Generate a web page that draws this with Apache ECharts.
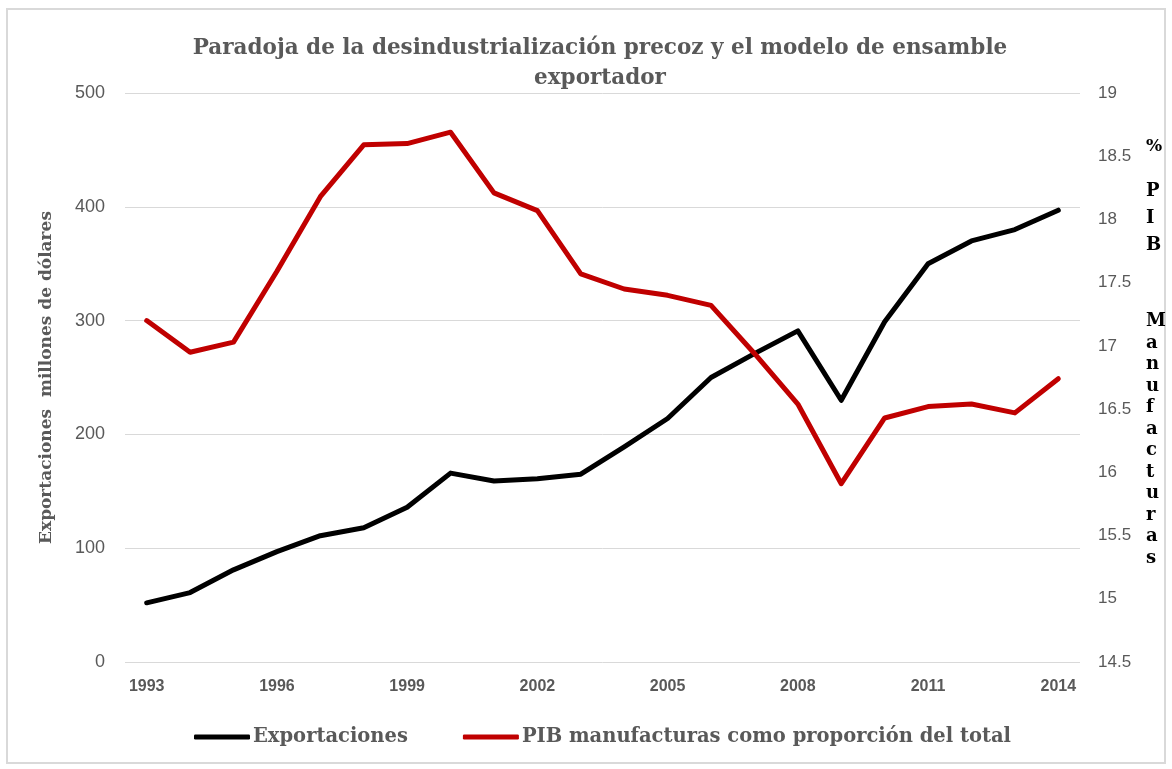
<!DOCTYPE html>
<html>
<head>
<meta charset="utf-8">
<script src="https://cdn.jsdelivr.net/npm/echarts@6/dist/echarts.min.js"></script>
<style>
  html, body { margin: 0; padding: 0; background: #fff; }
  #chart { width: 1172px; height: 769px; }
</style>
</head>
<body>
<div id="chart"></div>
<script>
// años
var years = ['1993', '1994', '1995', '1996', '1997', '1998', '1999', '2000', '2001', '2002', '2003',
             '2004', '2005', '2006', '2007', '2008', '2009', '2010', '2011', '2012', '2013', '2014'];
// exportaciones, millones de dólares (eje izquierdo)
var exportaciones = [52, 61, 81, 97, 111, 118, 136, 166, 159, 161, 165,
                     189, 214, 250, 271, 291, 230, 299, 350, 370, 380, 397];
// PIB manufacturas como % del total (eje derecho)
var pibManufacturas = [17.20, 16.95, 17.03, 17.59, 18.18, 18.59, 18.60, 18.69, 18.21, 18.07, 17.57,
                       17.45, 17.40, 17.32, 16.94, 16.54, 15.91, 16.43, 16.52, 16.54, 16.47, 16.74];

var serif = '"DejaVu Serif", "Liberation Serif", serif';
var sans = '"Liberation Sans", Arial, sans-serif';

var chart = echarts.init(document.getElementById('chart'));

var option = {
    backgroundColor: '#fff',
    animation: false,
    title: {
        text: 'Paradoja de la desindustrialización precoz y el modelo de ensamble\nexportador',
        left: 595,
        textAlign: 'center',
        top: 28,
        textStyle: {
            fontFamily: serif,
            fontWeight: 'bold',
            fontSize: 21.5,
            lineHeight: 30,
            color: '#595959'
        }
    },
    legend: {
        bottom: 17,
        left: 189,
        itemWidth: 56,
        itemHeight: 5,
        itemGap: 55,
        icon: 'roundRect',
        textStyle: {
            fontFamily: serif,
            fontWeight: 'bold',
            fontSize: 19.5,
            color: '#595959',
            padding: [0, 0, 0, -2]
        },
        data: ['Exportaciones', 'PIB manufacturas como proporción del total']
    },
    grid: {
        left: 125,
        right: 92,
        top: 93,
        bottom: 107
    },
    xAxis: {
        type: 'category',
        data: years,
        boundaryGap: true,
        axisLine: { show: false },
        axisTick: { show: false },
        axisLabel: {
            interval: 2,
            margin: 17,
            fontFamily: sans,
            fontWeight: 'bold',
            fontSize: 16,
            color: '#595959'
        }
    },
    yAxis: [
        {
            type: 'value',
            min: 0,
            max: 500,
            interval: 100,
            name: 'Exportaciones  millones de dólares',
            nameLocation: 'middle',
            nameRotate: 90,
            nameGap: 70,
            nameTextStyle: {
                fontFamily: serif,
                fontWeight: 'bold',
                fontSize: 17,
                color: '#595959'
            },
            axisLine: { show: false },
            axisTick: { show: false },
            axisLabel: {
                margin: 20,
                fontFamily: sans,
                fontSize: 18,
                color: '#595959'
            },
            splitLine: { lineStyle: { color: '#d9d9d9', width: 1 } }
        },
        {
            type: 'value',
            min: 14.5,
            max: 19,
            interval: 0.5,
            position: 'right',
            axisLine: { show: false },
            axisTick: { show: false },
            axisLabel: {
                margin: 18,
                fontFamily: sans,
                fontSize: 17,
                color: '#595959'
            },
            splitLine: { show: false }
        }
    ],
    series: [
        {
            name: 'Exportaciones',
            type: 'line',
            yAxisIndex: 0,
            data: exportaciones,
            symbol: 'none',
            color: '#000000',
            lineStyle: { width: 5, color: '#000000', cap: 'round', join: 'round' }
        },
        {
            name: 'PIB manufacturas como proporción del total',
            type: 'line',
            yAxisIndex: 1,
            data: pibManufacturas,
            symbol: 'none',
            color: '#c00000',
            lineStyle: { width: 5, color: '#c00000', cap: 'round', join: 'round' }
        }
    ],
    graphic: [
        {
            type: 'rect',
            shape: { x: 7, y: 9, width: 1158, height: 754 },
            style: { fill: 'none', stroke: '#d9d9d9', lineWidth: 2 },
            silent: true
        },
        {
            type: 'text',
            left: 1146,
            top: 138,
            style: { text: '%', font: 'bold 17px ' + serif, fill: '#000' }
        },
        {
            type: 'text',
            left: 1146,
            top: 178,
            style: { text: 'P\nI\nB', font: 'bold 18px ' + serif, lineHeight: 27, fill: '#000' }
        },
        {
            type: 'text',
            left: 1146,
            top: 311,
            style: { text: 'M\na\nn\nu\nf\na\nc\nt\nu\nr\na\ns', font: 'bold 18px ' + serif, lineHeight: 21.5, fill: '#000' }
        }
    ]
};

chart.setOption(option);
</script>
</body>
</html>
